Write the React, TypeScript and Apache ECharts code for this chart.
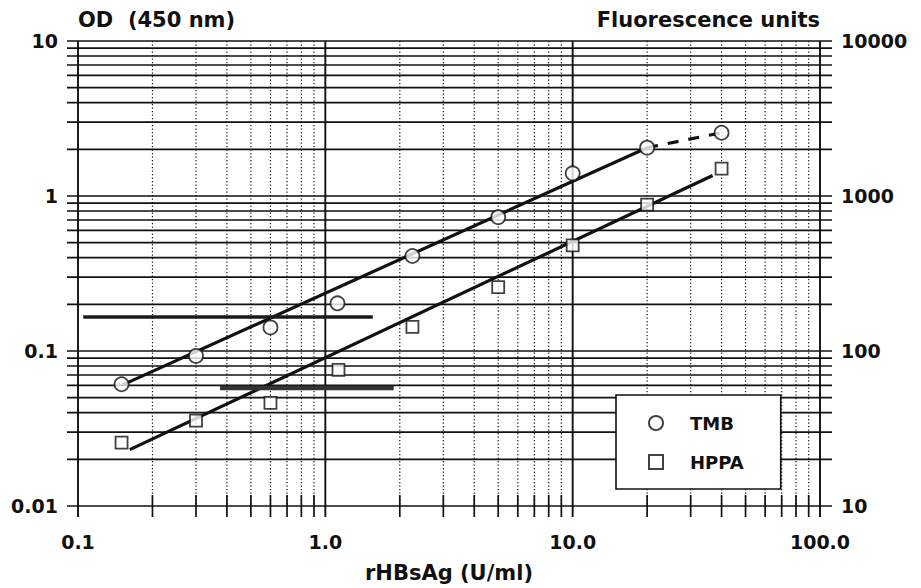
import React, { useEffect, useRef } from "react";
import * as echarts from "echarts";

// ---- data ----
const tmbConc = [0.15, 0.3, 0.6, 1.12, 2.25, 5, 10, 20, 40];
const tmbOD = [0.061, 0.093, 0.142, 0.203, 0.41, 0.73, 1.4, 2.05, 2.56];
const hppaConc = [0.15, 0.3, 0.6, 1.13, 2.25, 5, 10, 20, 40];
const hppaOD = [0.0256, 0.0355, 0.0463, 0.0755, 0.143, 0.258, 0.48, 0.88, 1.5];

const tmbFit = [[0.15, 0.06], [20, 2.05]];
const tmbExtrap = [[20, 2.05], [40, 2.56]];
const hppaFit = [[0.162, 0.0231], [36.8, 1.355]];
const tmbCutoff = [[0.105, 0.166], [1.556, 0.166]];
const hppaCutoff = [[0.375, 0.0578], [1.89, 0.0578]];

const X_MIN = 0.1;
const X_MAX = 100;
const Y_MIN = 0.01;
const Y_MAX = 10;
const Y2_MIN = 10;
const Y2_MAX = 10000;

const xDecades = [0.1, 1, 10];
const yDecades = [0.01, 0.1, 1];
const multipliers = [2, 3, 4, 5, 6, 7, 8, 9];
const xMajorLines = [1, 10];
const xEdgeLines = [0.1, 100];

const xMinorLines = xDecades.flatMap((d) => multipliers.map((m) => +(d * m).toPrecision(3)));
const yGridLines = [
  ...yDecades.flatMap((d) => [d, ...multipliers.map((m) => +(d * m).toPrecision(3))]),
  10,
];

const FONT = "DejaVu Sans";

export default function App() {
  const ref = useRef<HTMLDivElement>(null);

  useEffect(() => {
    if (!ref.current) return;
    document.body.style.margin = "0";
    const chart = echarts.init(ref.current, undefined, { renderer: "svg" });

    const hLine = (params: any, api: any) => {
      const v = api.value(1);
      const p0 = api.coord([X_MIN, v]);
      const p1 = api.coord([X_MAX, v]);
      return {
        type: "line",
        shape: { x1: p0[0] - 11, y1: p0[1], x2: p1[0] + 12, y2: p1[1] },
        style: { stroke: "#111", lineWidth: 1.7 },
      };
    };
    const vMinor = (params: any, api: any) => {
      const v = api.value(0);
      const top = api.coord([v, Y_MAX]);
      const bot = api.coord([v, Y_MIN]);
      return {
        type: "group",
        children: [
          {
            type: "line",
            shape: { x1: top[0], y1: top[1], x2: bot[0], y2: bot[1] },
            style: { stroke: "#111", lineWidth: 1.2, lineDash: [1.3, 2.2] },
          },
          {
            type: "line",
            shape: { x1: bot[0], y1: bot[1] - 11, x2: bot[0], y2: bot[1] + 11 },
            style: { stroke: "#111", lineWidth: 1.7 },
          },
        ],
      };
    };
    const vMajor = (params: any, api: any) => {
      const v = api.value(0);
      const top = api.coord([v, Y_MAX]);
      const bot = api.coord([v, Y_MIN]);
      return {
        type: "line",
        shape: { x1: top[0], y1: top[1], x2: bot[0], y2: bot[1] + 11 },
        style: { stroke: "#111", lineWidth: 1.9 },
      };
    };

    const textBase = { fontFamily: FONT, fontWeight: "bold" as const, color: "#111" };

    chart.setOption({
      animation: false,
      backgroundColor: "#fff",
      grid: { left: 78, right: 101, top: 41, bottom: 80, containLabel: false },
      xAxis: {
        type: "log",
        logBase: 10,
        min: X_MIN,
        max: X_MAX,
        name: "rHBsAg (U/ml)",
        nameLocation: "middle",
        nameGap: 56,
        nameTextStyle: { ...textBase, fontSize: 21 },
        axisLine: { show: false },
        axisTick: { show: false },
        splitLine: { show: false },
        axisLabel: {
          ...textBase,
          fontSize: 19,
          margin: 26,
          formatter: (v: number) => Number(v).toFixed(1),
        },
      },
      yAxis: [
        {
          type: "log",
          logBase: 10,
          min: Y_MIN,
          max: Y_MAX,
          position: "left",
          name: "OD  (450 nm)",
          nameLocation: "end",
          nameGap: 11,
          nameTextStyle: { ...textBase, fontSize: 21, align: "left" },
          axisLine: { show: false },
          axisTick: { show: false },
          splitLine: { show: false },
          axisLabel: {
            ...textBase,
            fontSize: 19,
            margin: 20,
            formatter: (v: number) => String(parseFloat(Number(v).toPrecision(2))),
          },
        },
        {
          type: "log",
          logBase: 10,
          min: Y2_MIN,
          max: Y2_MAX,
          position: "right",
          name: "Fluorescence units",
          nameLocation: "end",
          nameGap: 11,
          nameTextStyle: { ...textBase, fontSize: 21, align: "right" },
          axisLine: { show: false },
          axisTick: { show: false },
          splitLine: { show: false },
          axisLabel: {
            ...textBase,
            fontSize: 19,
            margin: 21,
            formatter: (v: number) => String(Math.round(Number(v))),
          },
        },
      ],
      legend: {
        orient: "vertical",
        left: 616,
        top: 395,
        padding: [18, 37, 17, 32],
        itemGap: 19,
        itemWidth: 14,
        itemHeight: 14,
        backgroundColor: "#fff",
        borderColor: "#111",
        borderWidth: 1.6,
        borderRadius: 0,
        data: [
          { name: "TMB", icon: "circle" },
          { name: "HPPA", icon: "rect" },
        ],
        textStyle: { ...textBase, fontSize: 18, padding: [0, 0, 0, 22], lineHeight: 20 },
      },
      series: [
        {
          type: "custom",
          name: "hgrid",
          silent: true,
          clip: false,
          z: 1,
          renderItem: hLine,
          data: yGridLines.map((v) => [X_MIN, v]),
        },
        {
          type: "custom",
          name: "vminor",
          silent: true,
          clip: false,
          z: 1,
          renderItem: vMinor,
          data: xMinorLines.map((v) => [v, Y_MIN]),
        },
        {
          type: "custom",
          name: "vmajor",
          silent: true,
          clip: false,
          z: 1,
          renderItem: vMajor,
          data: [...xMajorLines, ...xEdgeLines].map((v) => [v, Y_MIN]),
        },
        {
          type: "line",
          name: "tmbFit",
          data: tmbFit,
          symbol: "none",
          z: 3,
          lineStyle: { color: "#111", width: 3.2 },
        },
        {
          type: "line",
          name: "tmbExtrap",
          data: tmbExtrap,
          symbol: "none",
          z: 3,
          lineStyle: { color: "#111", width: 3.2, type: [11, 10] },
        },
        {
          type: "line",
          name: "hppaFit",
          data: hppaFit,
          symbol: "none",
          z: 3,
          lineStyle: { color: "#111", width: 3.2 },
        },
        {
          type: "line",
          name: "tmbCutoff",
          data: tmbCutoff,
          symbol: "none",
          z: 3,
          lineStyle: { color: "#1a1a1a", width: 3.5 },
        },
        {
          type: "line",
          name: "hppaCutoff",
          data: hppaCutoff,
          symbol: "none",
          z: 3,
          lineStyle: { color: "#333", width: 4.5 },
        },
        {
          type: "scatter",
          name: "TMB",
          data: tmbConc.map((c, i) => [c, tmbOD[i]]),
          symbol: "circle",
          symbolSize: 14,
          z: 5,
          itemStyle: { color: "#fff", borderColor: "#111", borderWidth: 1.8 },
        },
        {
          type: "scatter",
          name: "HPPA",
          data: hppaConc.map((c, i) => [c, hppaOD[i]]),
          symbol: "rect",
          symbolSize: 12,
          z: 5,
          itemStyle: { color: "#fff", borderColor: "#111", borderWidth: 1.8 },
        },
      ],
    });

    return () => chart.dispose();
  }, []);

  return (
    <div
      ref={ref}
      style={{ position: "fixed", left: 0, top: 0, width: 921, height: 588, background: "#fff" }}
    />
  );
}
